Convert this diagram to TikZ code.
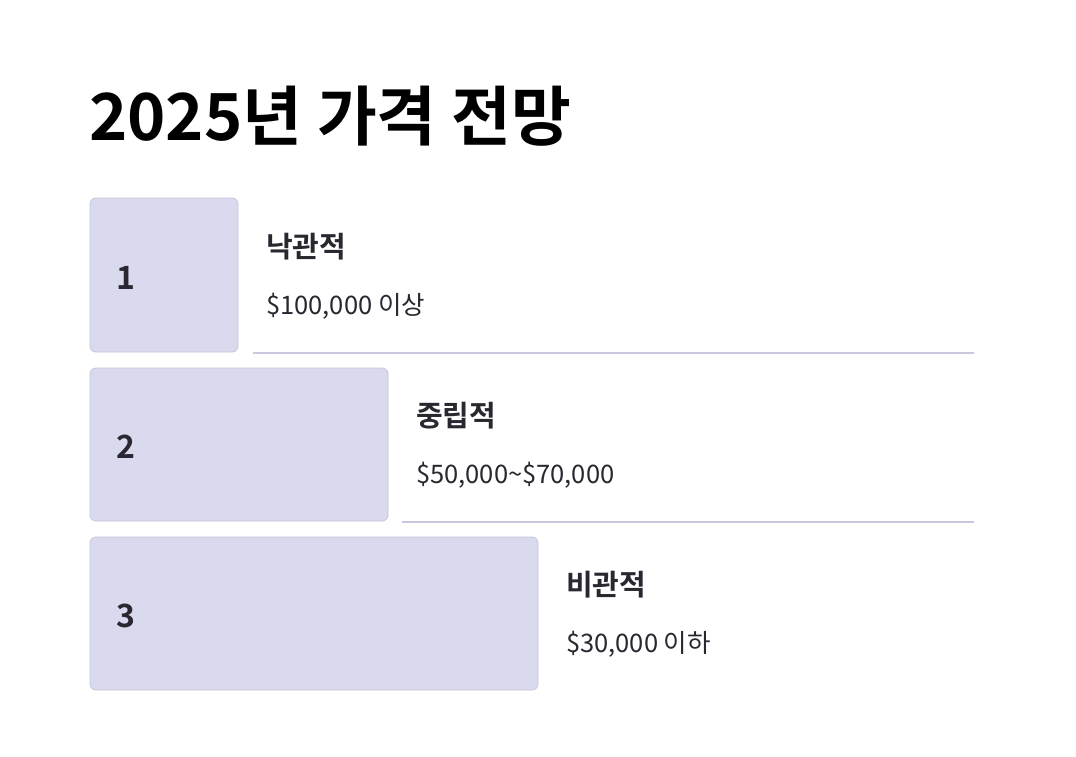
\documentclass[tikz,border=0pt]{standalone}
\usepackage{fontspec}
\setmainfont{Noto Sans CJK KR}[BoldFont={Noto Sans CJK KR Bold}]
\definecolor{boxfill}{HTML}{DADAEE}
\definecolor{boxline}{HTML}{C4C4DC}
\definecolor{sepline}{HTML}{C8C8E0}
\definecolor{txt}{HTML}{2A2730}
\tikzset{
  bar/.style={draw=boxline, fill=boxfill, line width=0.8pt, rounded corners=6pt},
  sep/.style={draw=sepline, line width=1.2pt},
  num/.style={anchor=base west, inner sep=0pt, text=txt, font=\fontsize{32}{34}\selectfont\bfseries},
  head/.style={anchor=base west, inner sep=0pt, text=txt, font=\fontsize{29}{32}\selectfont\bfseries},
  sub/.style={anchor=base west, inner sep=0pt, text=txt, font=\fontsize{25.5}{28}\selectfont},
}
\begin{document}
\begin{tikzpicture}[x=1pt,y=-1pt]
\useasboundingbox[fill=white] (0,0) rectangle (1076,756);
\node[anchor=base west, inner sep=0pt, font=\fontsize{65}{70}\selectfont\bfseries] (title) at (89,140) {2025년 가격 전망};

\draw[bar] (90,198) rectangle (238,352);
\draw[bar] (90,368) rectangle (388,521);
\draw[bar] (90,537) rectangle (538,690);

\coordinate (l1a) at (253,353); \coordinate (l1b) at (974,353);
\coordinate (l2a) at (402,522); \coordinate (l2b) at (974,522);
\draw[sep] (l1a) -- (l1b);
\draw[sep] (l2a) -- (l2b);

\node[num] (n1) at (116,289) {1};
\node[num] (n2) at (116,458) {2};
\node[num] (n3) at (116,627) {3};

\node[head] (h1) at (266,257) {낙관적};
\node[sub] (s1) at (266,314) {\$100,000 이상};
\node[head] (h2) at (416,426) {중립적};
\node[sub] (s2) at (416,483) {\$50,000\textasciitilde\$70,000};
\node[head] (h3) at (566,595) {비관적};
\node[sub] (s3) at (566,652) {\$30,000 이하};
\end{tikzpicture}
\end{document}
